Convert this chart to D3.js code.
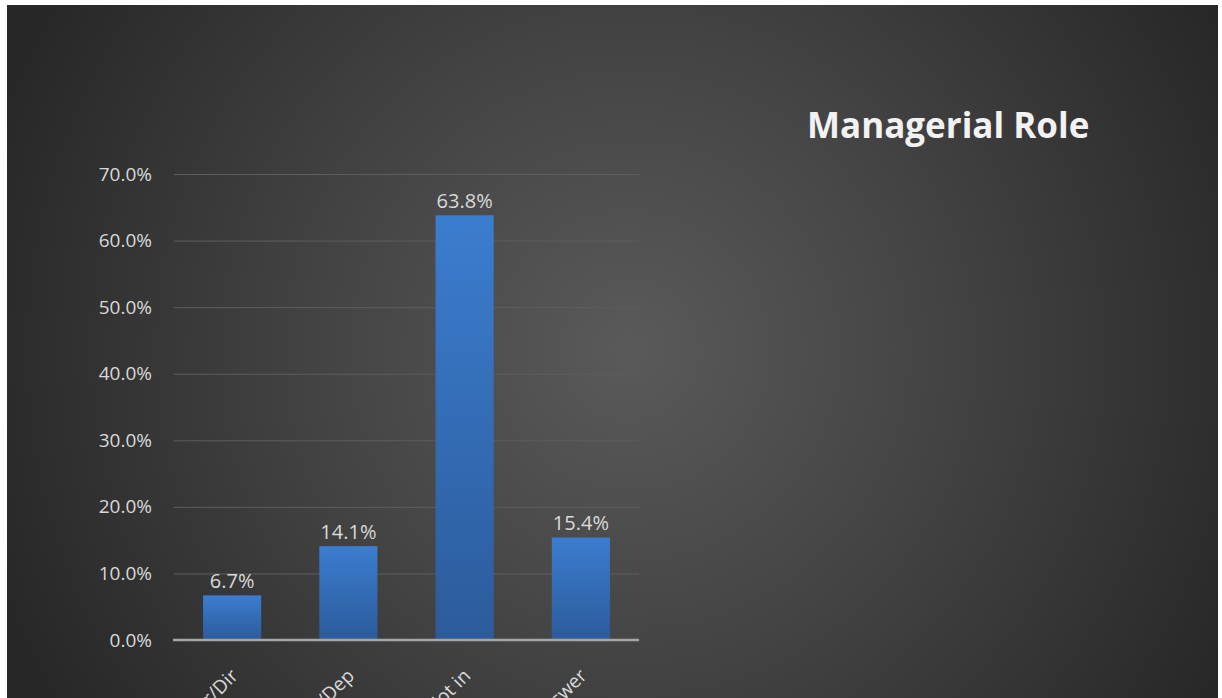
<!DOCTYPE html>
<html>
<head>
<meta charset="utf-8">
<script src="https://cdn.jsdelivr.net/npm/d3@7/dist/d3.min.js"></script>
<style>
  html, body { margin: 0; padding: 0; background: #ffffff; }
  svg { display: block; }
</style>
</head>
<body>
<svg id="chart" width="1222" height="698"></svg>
<script>
// Survey responses: managerial role
const categories = ["Manager/Dir", "Supervisor/Dep", "Not in", "No answer"];
const values = [0.067, 0.141, 0.638, 0.154];
const yTicks = [0, 0.1, 0.2, 0.3, 0.4, 0.5, 0.6, 0.7];
const chartTitle = "Managerial Role";

const svg = d3.select("#chart");
const W = 1222, H = 698;

const defs = svg.append("defs");

// Dark panel background with a soft central glow
const bg = defs.append("radialGradient")
  .attr("id", "panelGlow")
  .attr("gradientUnits", "userSpaceOnUse")
  .attr("cx", 630).attr("cy", 350).attr("r", 680);
bg.append("stop").attr("offset", "0%").attr("stop-color", "#5a5a5a");
bg.append("stop").attr("offset", "45%").attr("stop-color", "#444444");
bg.append("stop").attr("offset", "100%").attr("stop-color", "#272727");

// Bar fill: lighter blue at the top fading darker toward the base
const barGrad = defs.append("linearGradient")
  .attr("id", "barFill")
  .attr("x1", 0).attr("y1", 0).attr("x2", 0).attr("y2", 1);
barGrad.append("stop").attr("offset", "0%").attr("stop-color", "#3b7dcf");
barGrad.append("stop").attr("offset", "100%").attr("stop-color", "#2c5b9b");

svg.append("rect")
  .attr("x", 7).attr("y", 5)
  .attr("width", 1211).attr("height", H - 5)
  .attr("fill", "url(#panelGlow)");

const plot = { left: 174, right: 639, top: 174, bottom: 640 };

const x = d3.scaleBand()
  .domain(categories)
  .range([plot.left, plot.right])
  .paddingInner(0.5)
  .paddingOuter(0.25);

const y = d3.scaleLinear()
  .domain([0, 0.7])
  .range([plot.bottom, plot.top]);

const fontFamily = "'Open Sans', 'Noto Sans', sans-serif";
const textColor = "#d9d9d9";

// Horizontal gridlines
const yAxis = d3.axisLeft(y)
  .tickValues(yTicks)
  .tickFormat(d3.format(".1%"))
  .tickSize(-(plot.right - plot.left))
  .tickPadding(22);

const gy = svg.append("g")
  .attr("transform", `translate(${plot.left},0)`)
  .call(yAxis);
gy.select(".domain").remove();
gy.selectAll(".tick line")
  .attr("stroke", "#5e5e5e")
  .attr("stroke-width", 1);
gy.selectAll(".tick text")
  .attr("fill", textColor)
  .style("font-family", fontFamily)
  .style("font-size", "19px");

// Bars
svg.append("g")
  .selectAll("rect")
  .data(values)
  .join("rect")
  .attr("x", (d, i) => x(categories[i]))
  .attr("y", d => y(d))
  .attr("width", x.bandwidth())
  .attr("height", d => y(0) - y(d))
  .attr("fill", "url(#barFill)");

// Value labels
svg.append("g")
  .selectAll("text")
  .data(values)
  .join("text")
  .attr("x", (d, i) => x(categories[i]) + x.bandwidth() / 2)
  .attr("y", d => y(d) - 7)
  .attr("text-anchor", "middle")
  .attr("fill", textColor)
  .style("font-family", fontFamily)
  .style("font-size", "20px")
  .text(d => d3.format(".1%")(d));

// Category axis baseline and rotated labels
const xAxis = d3.axisBottom(x).tickSize(0).tickPadding(0);
const gx = svg.append("g")
  .attr("transform", `translate(0,${plot.bottom})`)
  .call(xAxis);
gx.select(".domain")
  .attr("stroke", "#a6a6a6")
  .attr("stroke-width", 2.5)
  .attr("d", `M${plot.left - 1},0H${plot.right}`);
gx.selectAll(".tick text")
  .attr("fill", textColor)
  .style("font-family", fontFamily)
  .style("font-size", "19px")
  .attr("text-anchor", "end")
  .attr("transform", "translate(7,37) rotate(-45)")
  .attr("dy", "0");

// Chart title
svg.append("text")
  .attr("x", 807)
  .attr("y", 138)
  .attr("fill", "#f2f2f2")
  .style("font-family", fontFamily)
  .style("font-weight", "700")
  .style("font-size", "35px")
  .text(chartTitle);
</script>
</body>
</html>
